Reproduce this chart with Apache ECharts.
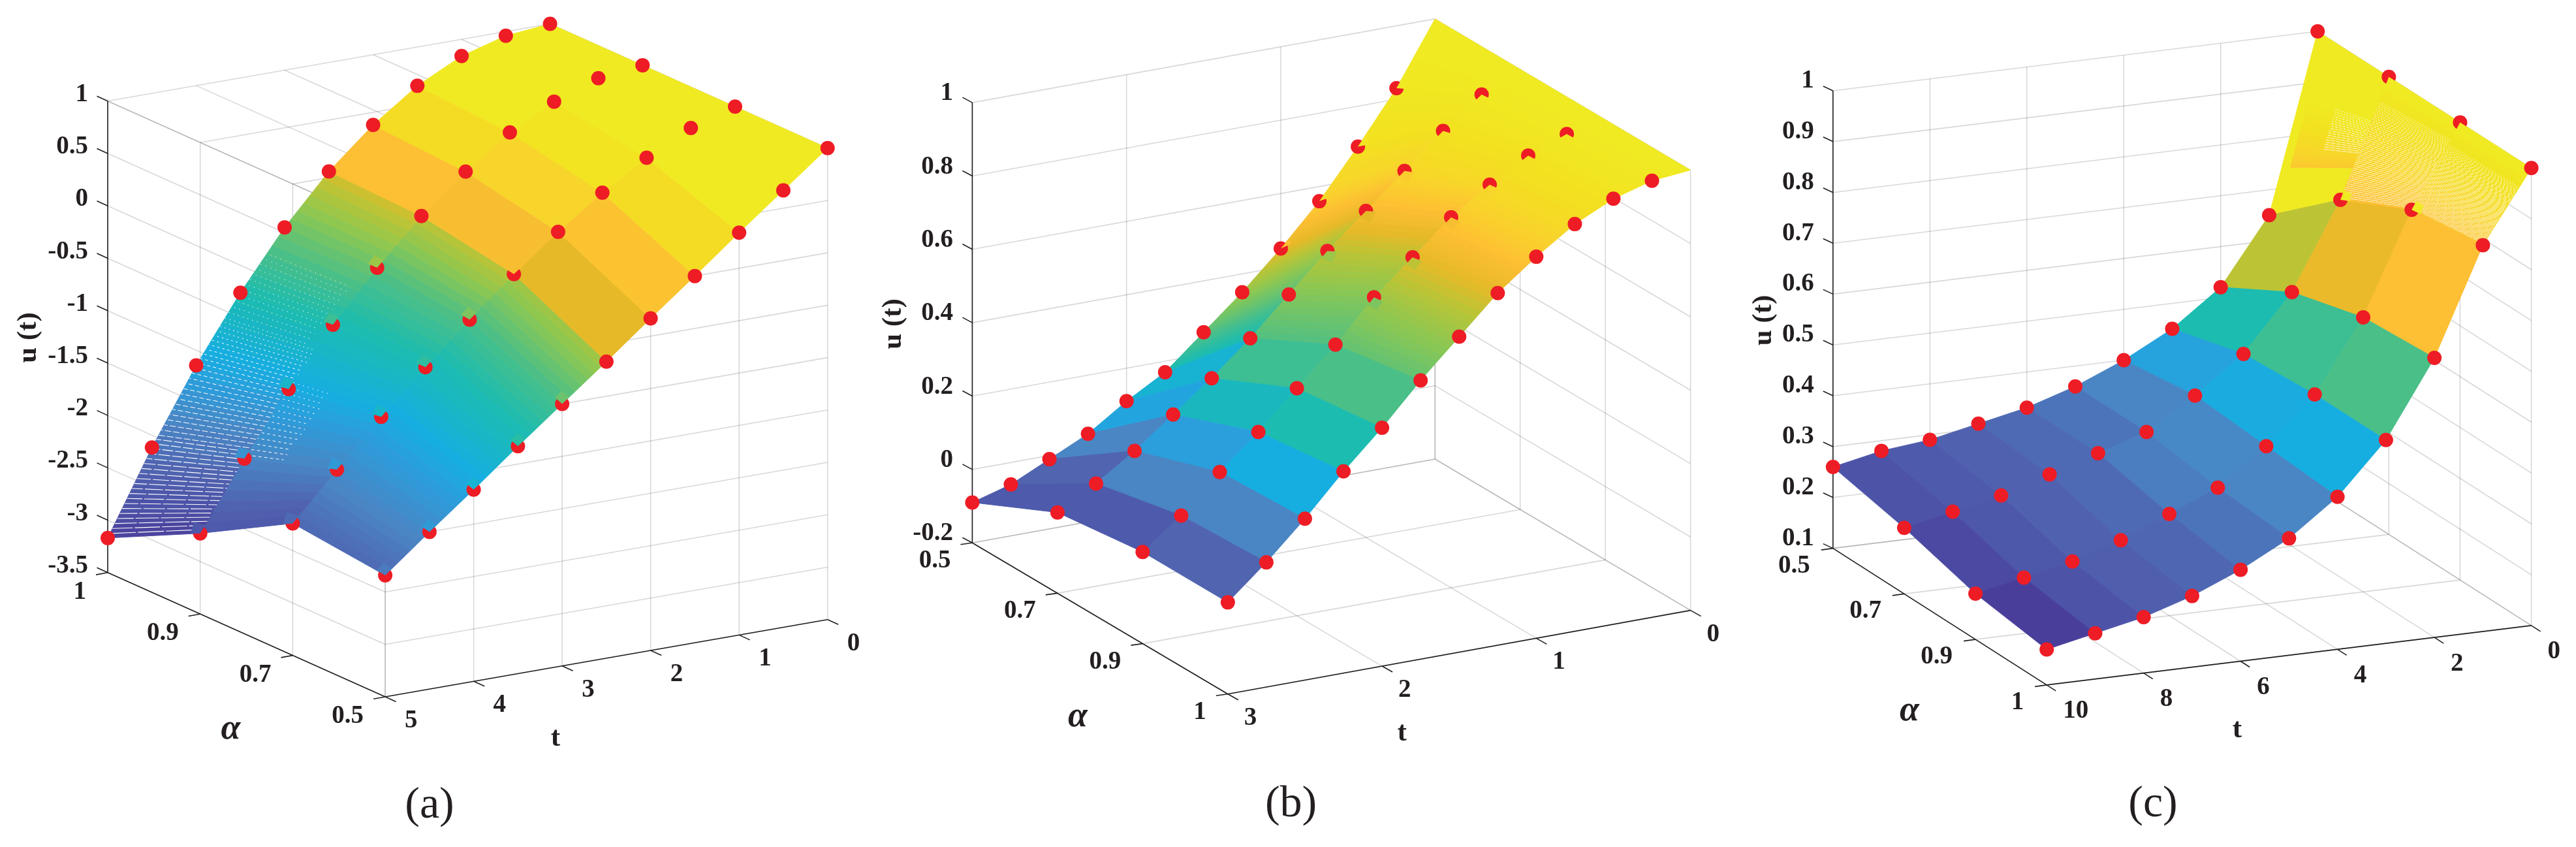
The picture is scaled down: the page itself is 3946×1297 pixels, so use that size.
<!DOCTYPE html>
<html><head><meta charset="utf-8">
<style>html,body{margin:0;padding:0;background:#fff}#c{width:3946px;height:1297px}</style>
<script src="https://cdn.jsdelivr.net/npm/echarts@6/dist/echarts.min.js"></script>
</head><body><div id="c"></div>
<script>
// ---- data ----
const alphaTicks = ['0.5','0.7','0.9','1'];
const tA = [0,0.5,1,1.5,2,2.5,3,3.5,4,4.5,5];
const uA05 = [1,.67,.34,0,-.33,-.67,-1,-1.33,-1.67,-2,-2.34];
const uA07 = [1,.87,.66,.40,.10,-.23,-.59,-.97,-1.37,-1.80,-2.24];
const uA09 = [1,.95,.80,.58,.28,-.07,-.49,-.96,-1.50,-2.09,-2.73];
const uA10 = [1,.96,.84,.63,.33,-.04,-.50,-1.05,-1.67,-2.38,-3.17];
const tB = [0,.25,.5,.75,1,1.25,1.5,1.75,2,2.25,2.5,2.75,3];
const uB05 = [1,.83,.69,.56,.45,.35,.26,.17,.11,.04,-.01,-.06,-.09];
const uB07 = [1,.95,.87,.78,.69,.60,.50,.40,.31,.23,.15,.08,.02];
const uB09 = [1,.98,.94,.88,.81,.72,.63,.52,.42,.32,.23,.13,.05];
const uB10 = [1,.99,.96,.91,.84,.76,.66,.56,.45,.35,.24,.14,.05];
const tC = [0,1,2,3,4,5,6,7,8,9,10];
const uC05 = [1,.65,.52,.45,.40,.36,.33,.31,.29,.28,.26];
const uC07 = [1,.77,.60,.49,.42,.36,.33,.30,.27,.25,.23];
const uC09 = [1,.84,.64,.50,.41,.34,.30,.26,.23,.21,.19];
const uC10 = [1,.86,.65,.50,.40,.33,.28,.24,.21,.19,.17];
const zTicksA = ['1','0.5','0','-0.5','-1','-1.5','-2','-2.5','-3','-3.5'];
const zTicksB = ['1','0.8','0.6','0.4','0.2','0','-0.2'];
const zTicksC = ['1','0.9','0.8','0.7','0.6','0.5','0.4','0.3','0.2','0.1'];
const tTicksA = [0,1,2,3,4,5];
const tTicksB = [0,1,2,3];
const tTicksC = [0,2,4,6,8,10];
// colour level of each surface cell (rows from t=0 outward, one list per alpha interval)
const levA = [[1,1,.93,.86,.80,.66,.57,.48,.38,.27],[1,1,.97,.90,.84,.68,.58,.50,.38,.22],[1,1,1,.93,.85,.72,.60,.50,.35,.14]];
const levB = [[1,.98,.92,.85,.76,.68,.60,.48,.42,.30,.20,.15],[1,.98,.94,.88,.80,.72,.66,.60,.52,.40,.30,.15],[1,.98,.95,.90,.84,.76,.68,.62,.55,.45,.30,.20]];
const levC = [[1,.76,.55,.41,.30,.25,.22,.19,.15,.12],[1,.81,.60,.44,.31,.28,.22,.19,.14,.07],[1,.85,.62,.45,.30,.25,.21,.17,.12,.02]];
const cmapStops = [[0,'#4a3a98'],[.1,'#4c50a6'],[.2,'#5064b0'],[.25,'#4c74ba'],[.3,'#4a85c4'],[.4,'#2a9fdc'],[.45,'#16aee0'],[.55,'#1cbcb0'],[.62,'#4abf88'],[.7,'#8cc752'],[.76,'#bcc435'],[.8,'#e6b928'],[.85,'#fdbf33'],[.9,'#f8d52a'],[.95,'#f3e020'],[1,'#f0ea22']];

// ---- view of each panel (orthographic box) ----
const panels = [
 {t:tA,u:[uA05,uA07,uA09,uA10],lev:levA,zMin:-3.5,zMax:1,zTicks:zTicksA,tTicks:tTicksA,
  O:[1267.7,948.7],T:[-677.6,118.3],A:[-425.1,-190.2],Z:[0,-722],
  wallT:5,wallZ:1,zAxis:[5,3],tAxisA:0,tAxisT:5,
  tickZ:[-16.5,-7.5],tickT:[16.5,7.5],tickA:[-18,3.3],
  offZ:[-30,-10],offT:[30,37],offA:[-33,30],
  tTitle:[851,1131],aTitle:[353.5,1117],uTitle:[44,517],cap:'(a)',capPos:[658,1234],
  bandRows:r=>r>=5,farHighT:true,markT0:true,
  notches:[{i:0,from:6,to:10,di:1,dr:-1},{i:1,from:5,to:10,di:1,dr:-1},{i:2,from:6,to:10,di:1,dr:-1}],
  patches:[],
  gaps:[{i0:3,i1:2,t0:9.95,t1:8.9,n:20,d0:40,g0:3,d1:14,g1:3,w:1.1},{i0:3,i1:2,t0:8.85,t1:7.4,n:24,d0:10,g0:3,d1:1.6,g1:5,w:1},{i0:2,i1:1.6,t0:8.95,t1:7.9,n:14,d0:5,g0:4,d1:1.6,g1:6,w:1},{i0:3,i1:2.1,t0:7.35,t1:6.4,n:13,d0:1.5,g0:6,d1:1.2,g1:7,w:1}]},
 {t:tB,u:[uB05,uB07,uB09,uB10],lev:levB,zMin:-.2,zMax:1,zTicks:zTicksB,tTicks:tTicksB,
  O:[2198.2,703],T:[-708.8,128.2],A:[391.4,231.6],Z:[0,-674.1],
  wallT:0,wallZ:-.2,zAxis:[3,0],tAxisA:3,tAxisT:3,
  tickZ:[-15,-8],tickT:[16,9],tickA:[-18,2.5],
  offZ:[-29.5,-14],offT:[25,37],offA:[-33,28],
  tTitle:[2147.7,1123],aTitle:[1651,1098],uTitle:[1369,496],cap:'(b)',capPos:[1977.6,1232],
  bandRows:r=>r<=6,farHighT:false,markT0:false,
  notches:[{i:0,from:1,to:4,di:1,dr:-1},{i:1,from:1,to:5,di:1,dr:1},{i:2,from:1,to:6,di:1,dr:1}],
  patches:[],gaps:[]},
 {t:tC,u:[uC05,uC07,uC09,uC10],lev:levC,zMin:.1,zMax:1,zTicks:zTicksC,tTicks:tTicksC,
  O:[3550.2,748.6],T:[-742.4,91],A:[327.4,209.3],Z:[0,-700.6],
  wallT:0,wallZ:.1,zAxis:[10,0],tAxisA:3,tAxisT:10,
  tickZ:[-15,-7],tickT:[14,9],tickA:[-18,2.5],
  offZ:[-29,-15],offT:[25,40.5],offA:[-35,27],
  tTitle:[3427,1118],aTitle:[2925,1089],uTitle:[2702,490.5],cap:'(c)',capPos:[3298,1232],
  bandRows:r=>false,farHighT:false,markT0:true,
  notches:[{i:1,from:1,to:1,di:1,dr:-1},{i:2,from:1,to:1,di:1,dr:-1},{i:1,from:0,to:0,di:1,dr:1},{i:2,from:0,to:0,di:1,dr:1}],
  patches:[{i0:.12,i1:1,t0:.74,t1:.38,l0:.87,l1:1,n:20},{i0:1,i1:2,t0:1,t1:.1,l0:.85,l1:.99,n:36},{i0:2,i1:3,t0:1,t1:.12,l0:.86,l1:.99,n:36}],
  gaps:[{i0:1,i1:.5,t0:.62,t1:.36,n:18,d0:8,g0:1.2,d1:2,g1:2.5,w:.8},{i0:1,i1:2,t0:.98,t1:.2,n:50,d0:12,g0:1.2,d1:1.5,g1:2.5,w:.8},{i0:2,i1:3,t0:.98,t1:.25,n:50,d0:16,g0:1.2,d1:1.5,g1:3.5,w:.8}]}
];

// ---- helpers ----
function hex(c){return [parseInt(c.slice(1,3),16),parseInt(c.slice(3,5),16),parseInt(c.slice(5,7),16)];}
function colorAt(l){
  l=Math.max(0,Math.min(1,l));
  for(let j=1;j<cmapStops.length;j++){
    if(l<=cmapStops[j][0]){
      const a=cmapStops[j-1],b=cmapStops[j],f=(l-a[0])/(b[0]-a[0]),p=hex(a[1]),q=hex(b[1]);
      return 'rgb('+p.map((v,n)=>Math.round(v+(q[n]-v)*f)).join(',')+')';
    }
  }
  return cmapStops[cmapStops.length-1][1];
}
function project(p,t,a,z){
  const ft=t/p.t[p.t.length-1],fa=a/3,fz=(z-p.zMin)/(p.zMax-p.zMin);
  return [p.O[0]+ft*p.T[0]+fa*p.A[0]+fz*p.Z[0], p.O[1]+ft*p.T[1]+fa*p.A[1]+fz*p.Z[1]];
}
// surface point at fractional alpha index and fractional t index
function surf(p,fi,fk){
  const i=Math.min(2,Math.floor(fi)),k=Math.min(p.t.length-2,Math.floor(fk)),a=fi-i,b=fk-k;
  const z=(1-a)*((1-b)*p.u[i][k]+b*p.u[i][k+1])+a*((1-b)*p.u[i+1][k]+b*p.u[i+1][k+1]);
  const t=p.t[k]+b*(p.t[k+1]-p.t[k]);
  return project(p,t,fi,z);
}
const polys=[],gapSegs=[],wedges=[],gridSegs=[],axisSegs=[],texts=[],markers=[];
function quad(p,i0,i1,k0,k1,col,list){
  (list||polys).push({pts:[surf(p,i0,k0),surf(p,i1,k0),surf(p,i1,k1),surf(p,i0,k1)],col});
}
panels.forEach(p=>{
  const rows=p.t.length-1, tMax=p.t[rows];
  // walls and floor/ceiling grid
  const zStep=(p.zMax-p.zMin)/(p.zTicks.length-1);
  const zv=p.zTicks.map((_,n)=>p.zMax-n*zStep);
  const seg=(list,a,b)=>list.push([project(p,a[0],a[1],a[2]),project(p,b[0],b[1],b[2])]);
  p.tTicks.forEach(t=>{ seg(gridSegs,[t,0,p.zMin],[t,0,p.zMax]); seg(gridSegs,[t,0,p.wallZ],[t,3,p.wallZ]); });
  [0,1,2,3].forEach(a=>{ seg(gridSegs,[p.wallT,a,p.zMin],[p.wallT,a,p.zMax]); seg(gridSegs,[0,a,p.wallZ],[tMax,a,p.wallZ]); });
  zv.forEach(z=>{ seg(gridSegs,[0,0,z],[tMax,0,z]); seg(gridSegs,[p.wallT,0,z],[p.wallT,3,z]); });
  // axes with ticks and labels
  seg(axisSegs,[p.zAxis[0],p.zAxis[1],p.zMin],[p.zAxis[0],p.zAxis[1],p.zMax]);
  seg(axisSegs,[0,p.tAxisA,p.zMin],[tMax,p.tAxisA,p.zMin]);
  seg(axisSegs,[p.tAxisT,0,p.zMin],[p.tAxisT,3,p.zMin]);
  const tickFont='bold 39px "Liberation Serif"';
  const tick=(q,v)=>axisSegs.push([q,[q[0]+v[0],q[1]+v[1]]]);
  zv.forEach((z,n)=>{ const q=project(p,p.zAxis[0],p.zAxis[1],z); tick(q,p.tickZ);
    texts.push({x:q[0]+p.offZ[0],y:q[1]+p.offZ[1],s:p.zTicks[n],font:tickFont,align:'right'}); });
  p.tTicks.forEach(t=>{ const q=project(p,t,p.tAxisA,p.zMin); tick(q,p.tickT);
    texts.push({x:q[0]+p.offT[0],y:q[1]+p.offT[1],s:String(t),font:tickFont,align:'left'}); });
  alphaTicks.forEach((lab,a)=>{ const q=project(p,p.tAxisT,a,p.zMin); tick(q,p.tickA);
    texts.push({x:q[0]+p.offA[0],y:q[1]+p.offA[1],s:lab,font:tickFont,align:'right'}); });
  const titleFont='bold 43px "Liberation Serif"';
  texts.push({x:p.tTitle[0],y:p.tTitle[1],s:'t',font:titleFont,align:'center'});
  texts.push({x:p.aTitle[0],y:p.aTitle[1],s:'α',font:'italic bold 54px "Liberation Serif"',align:'center'});
  texts.push({x:p.uTitle[0],y:p.uTitle[1],s:'u (t)',font:titleFont,align:'center',rot:Math.PI/2});
  texts.push({x:p.capPos[0],y:p.capPos[1],s:p.cap,font:'68px "Liberation Serif"',align:'center'});
  // surface, painted from the far corner
  const order=[...Array(rows).keys()]; if(p.farHighT) order.reverse();
  order.forEach(r=>{
    [0,1,2].forEach(c=>{
      const L=p.lev[c];
      if(p.bandRows(r)){
        const prev=r>0?L[r-1]:L[r]+(L[r]-L[r+1]), next=r<rows-1?L[r+1]:L[r]-(L[r-1]-L[r]);
        const a=(prev+L[r])/2,b=(L[r]+next)/2,N=7;
        for(let s=0;s<N;s++){
          quad(p,c,c+1,r+s/N,r+(s+1)/N,colorAt(a+(b-a)*(s+.5)/N));
        }
      } else quad(p,c,c+1,r,r+1,colorAt(L[r]));
    });
  });
  p.patches.forEach(g=>{
    for(let s=0;s<g.n;s++){
      const f0=s/g.n,f1=(s+1)/g.n;
      quad(p,g.i0,g.i1,g.t0+(g.t1-g.t0)*f0,g.t0+(g.t1-g.t0)*f1,colorAt(g.l0+(g.l1-g.l0)*(f0+f1)/2));
    }
  });
  p.gaps.forEach(g=>{
    for(let s=0;s<g.n;s++){
      const f=s/(g.n-1),k=g.t0+(g.t1-g.t0)*f;
      gapSegs.push({a:surf(p,g.i0,k),b:surf(p,g.i1,k),dash:[g.d0+(g.d1-g.d0)*f,g.g0+(g.g1-g.g0)*f],off:(s*7.3)%11,w:g.w});
    }
  });
  // markers on the nodes
  p.u.forEach((row,i)=>row.forEach((z,k)=>{
    if(k===0&&!p.markT0) return;
    markers.push(project(p,p.t[k],i,z));
  }));
  // parts of markers hidden by the cell in front of them
  p.notches.forEach(n=>{
    for(let k=n.from;k<=n.to;k++){
      const c0=surf(p,n.i,k),e1=surf(p,n.i+n.di,k),e2=surf(p,n.i,k+n.dr);
      const unit=(e)=>{const dx=e[0]-c0[0],dy=e[1]-c0[1],l=Math.hypot(dx,dy);return [dx/l,dy/l];};
      const u1=unit(e1),u2=unit(e2),m=unit([c0[0]+u1[0]+u2[0],c0[1]+u1[1]+u2[1]]);
      const R=15,col=n.di>0?n.i:n.i-1,row=n.dr>0?k:k-1;
      wedges.push({pts:[c0,[c0[0]+u1[0]*R,c0[1]+u1[1]*R],[c0[0]+m[0]*R*1.3,c0[1]+m[1]*R*1.3],[c0[0]+u2[0]*R,c0[1]+u2[1]*R]],col:colorAt(p.lev[col][row])});
    }
  });
});

function polySeries(list,z,stroke){
  return {type:'custom',coordinateSystem:'cartesian2d',silent:true,z,clip:false,animation:false,
    data:list.map((_,n)=>[n]),
    renderItem:(params,api)=>{const q=list[api.value(0)];
      return {type:'polygon',shape:{points:q.pts.map(v=>api.coord(v))},
        style:{fill:q.col,stroke:stroke?q.col:null,lineWidth:stroke?0.9:0}};}};
}
function lineSeries(list,z,color,width){
  return {type:'custom',coordinateSystem:'cartesian2d',silent:true,z,clip:false,animation:false,
    data:list.map((_,n)=>[n]),
    renderItem:(params,api)=>{const q=list[api.value(0)],a=api.coord(q[0]),b=api.coord(q[1]);
      return {type:'line',shape:{x1:a[0],y1:a[1],x2:b[0],y2:b[1]},style:{stroke:color,lineWidth:width,fill:null}};}};
}
const option={
  animation:false,backgroundColor:'#fff',
  grid:{left:0,right:0,top:0,bottom:0},
  xAxis:{type:'value',min:0,max:3946,show:false},
  yAxis:{type:'value',min:0,max:1297,inverse:true,show:false},
  series:[
    lineSeries(gridSegs,1,'rgba(60,60,60,0.2)',1.6),
    lineSeries(axisSegs,2,'#231f20',1.6),
    polySeries(polys,3,true),
    {type:'custom',coordinateSystem:'cartesian2d',silent:true,z:4,clip:false,animation:false,
      data:gapSegs.map((_,n)=>[n]),
      renderItem:(params,api)=>{const q=gapSegs[api.value(0)],a=api.coord(q.a),b=api.coord(q.b);
        return {type:'line',shape:{x1:a[0],y1:a[1],x2:b[0],y2:b[1]},style:{stroke:'#fff',lineWidth:q.w,lineDash:q.dash,lineDashOffset:q.off,fill:null}};}},
    {type:'scatter',silent:true,z:5,clip:false,animation:false,symbol:'circle',symbolSize:22,
      itemStyle:{color:'#ee1c25',opacity:1},data:markers},
    polySeries(wedges,6,false),
    {type:'custom',coordinateSystem:'cartesian2d',silent:true,z:7,clip:false,animation:false,
      data:texts.map((_,n)=>[n]),
      renderItem:(params,api)=>{const q=texts[api.value(0)],a=api.coord([q.x,q.y]);
        return {type:'text',x:a[0],y:a[1],rotation:q.rot||0,
          style:{text:q.s,x:0,y:0,font:q.font,fill:'#231f20',textAlign:q.align,textVerticalAlign:'middle'}};}}
  ]
};
const chart=echarts.init(document.getElementById('c'),null,{renderer:'canvas',width:3946,height:1297});
chart.setOption(option);
</script></body></html>
